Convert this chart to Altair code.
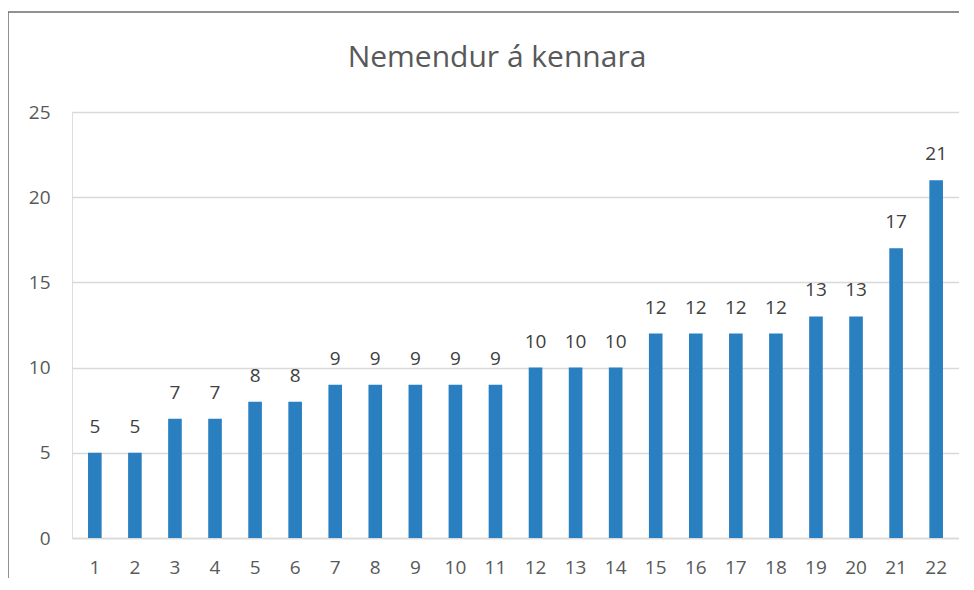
import altair as alt
import pandas as pd

categories = [str(i) for i in range(1, 23)]
values = [5, 5, 7, 7, 8, 8, 9, 9, 9, 9, 9, 10, 10, 10, 12, 12, 12, 12, 13, 13, 17, 21]
y_ticks = [0, 5, 10, 15, 20, 25]
title_text = "Nemendur á kennara"

df = pd.DataFrame({"cat": categories, "val": values})

FONT = "Open Sans"
W, H = 887, 426

x_enc = alt.X("cat:N", sort=categories,
              scale=alt.Scale(paddingInner=0.66, paddingOuter=0.4),
              axis=alt.Axis(title=None, labelAngle=0, ticks=False, domain=True,
                            domainColor="#d9d9d9", domainWidth=1.5,
                            labelFont=FONT, labelFontSize=19, labelColor="#595959",
                            labelPadding=20))
y_enc = alt.Y("val:Q", scale=alt.Scale(domain=[0, 25], nice=False),
              axis=alt.Axis(title=None, values=y_ticks, ticks=False, domain=False,
                            grid=True, gridColor="#d9d9d9", gridWidth=1.5,
                            labelFont=FONT, labelFontSize=19, labelColor="#595959",
                            labelPadding=22))

base = alt.Chart(df)
bars = base.mark_bar(color="#2A7FC1").encode(x=x_enc, y=y_enc)
labels = base.mark_text(baseline="bottom", dy=-16, font=FONT, fontSize=19,
                        color="#404040").encode(
    x=alt.X("cat:N", sort=categories), y="val:Q", text="val:Q")

title = alt.Chart(pd.DataFrame({"t": [title_text]})).mark_text(
    font=FONT, fontSize=30, color="#595959", baseline="middle", align="center").encode(
    x=alt.value(425), y=alt.value(-54), text="t:N")

frame = alt.Chart(pd.DataFrame({"a": [0]})).mark_rect(
    fill=None, stroke="#6e6e6e", strokeWidth=1.5).encode(
    x=alt.value(-64), x2=alt.value(910), y=alt.value(-100), y2=alt.value(500))

chart = alt.layer(bars, labels, title, frame).properties(
    width=W, height=H,
    padding={"left": 64, "top": 104, "right": 0, "bottom": 40},
    autosize=alt.AutoSizeParams(type="none"),
).configure_view(stroke=None).configure(background="white")

chart.save("out.html", embed_options={"renderer": "svg", "actions": False})
